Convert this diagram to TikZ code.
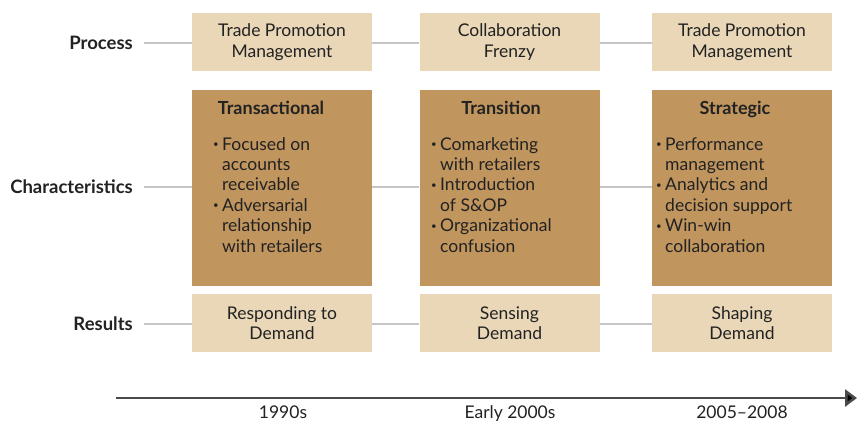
\documentclass[tikz,border=0pt]{standalone}
\usepackage{fontspec}
\setmainfont{Lato}
\usetikzlibrary{arrows.meta}
\definecolor{lightbox}{HTML}{E9D7B8}
\definecolor{darkbox}{HTML}{C0955E}
\definecolor{linkgray}{HTML}{C6C6C6}
\definecolor{axisgray}{HTML}{4A4A4A}
\definecolor{textdark}{HTML}{222222}
\newcommand{\bul}{\makebox[9pt][l]{\raisebox{0.25ex}{\scalebox{0.55}{\textbullet}}}}
\newcommand{\ind}{\hspace*{9pt}}
\tikzset{
  x=1pt, y=-1pt,
  every node/.style={text=textdark, font=\fontsize{17.5}{20.4}\selectfont},
  lightcell/.style={fill=lightbox, minimum width=180pt, minimum height=58pt, inner sep=0pt, align=center},
  darkcell/.style={fill=darkbox, minimum width=180pt, minimum height=196pt, inner sep=0pt},
  rowlabel/.style={anchor=base east, font=\fontsize{18.5}{20}\selectfont\bfseries, inner sep=0pt},
  celltitle/.style={anchor=base, font=\fontsize{18}{20}\selectfont\bfseries, inner sep=0pt},
  celllist/.style={anchor=base west, align=left, inner sep=0pt},
  link/.style={draw=linkgray, line width=1.3pt},
  timeaxis/.style={draw=axisgray, line width=2.6pt, -{Triangle[length=12pt, width=17pt, fill=black]}},
  yearlabel/.style={anchor=base, inner sep=0pt}
}
\begin{document}
\begin{tikzpicture}
\useasboundingbox (0,0) rectangle (858,421);

% row labels
\node[rowlabel] (lproc) at (133,49) {Process};
\node[rowlabel] (lchar) at (133,193) {Characteristics};
\node[rowlabel] (lres)  at (133,330) {Results};

% process row
\node[lightcell] (p1) at (282,42)   {Trade Promotion\\Management};
\node[lightcell] (p2) at (509.5,42) {Collaboration\\Frenzy};
\node[lightcell] (p3) at (742,42)   {Trade Promotion\\Management};

% characteristics row
\node[darkcell] (c1) at (282,188)   {};
\node[darkcell] (c2) at (509.5,188) {};
\node[darkcell] (c3) at (742,188)   {};

\node[celltitle] (t1) at (271,114) {Transactional};
\node[celltitle] (t2) at (501,114) {Transition};
\node[celltitle] (t3) at (735,114) {Strategic};

% bullet lists, placed by the baseline of their last line
\node[celllist] (b1) at (213,252) {\bul Focused on\\\ind accounts\\\ind receivable\\\bul Adversarial\\\ind relationship\\\ind with retailers};
\node[celllist] (b2) at (431,252) {\bul Comarketing\\\ind with retailers\\\bul Introduction\\\ind of S\&OP\\\bul Organizational\\\ind confusion};
\node[celllist] (b3) at (656,252) {\bul Performance\\\ind management\\\bul Analytics and\\\ind decision support\\\bul Win-win\\\ind collaboration};

% results row
\node[lightcell] (r1) at (282,323)   {Responding to\\Demand};
\node[lightcell] (r2) at (509.5,323) {Sensing\\Demand};
\node[lightcell] (r3) at (742,323)   {Shaping\\Demand};

% connectors between row label and cells
\coordinate (sproc) at (144,43);
\coordinate (schar) at (144,187);
\coordinate (sres)  at (144,324);
\draw[link] (sproc) -- (p1.west |- sproc);
\draw[link] (p1.east |- sproc) -- (p2.west |- sproc);
\draw[link] (p2.east |- sproc) -- (p3.west |- sproc);
\draw[link] (schar) -- (c1.west |- schar);
\draw[link] (c1.east |- schar) -- (c2.west |- schar);
\draw[link] (c2.east |- schar) -- (c3.west |- schar);
\draw[link] (sres) -- (r1.west |- sres);
\draw[link] (r1.east |- sres) -- (r2.west |- sres);
\draw[link] (r2.east |- sres) -- (r3.west |- sres);

% time axis
\coordinate (axs) at (116,398);
\coordinate (axe) at (857,398);
\draw[timeaxis] (axs) -- (axe);
\node[yearlabel] (y1) at (283,418) {1990s};
\node[yearlabel] (y2) at (510,418) {Early 2000s};
\node[yearlabel] (y3) at (742,418) {2005--2008};
\end{tikzpicture}
\end{document}
